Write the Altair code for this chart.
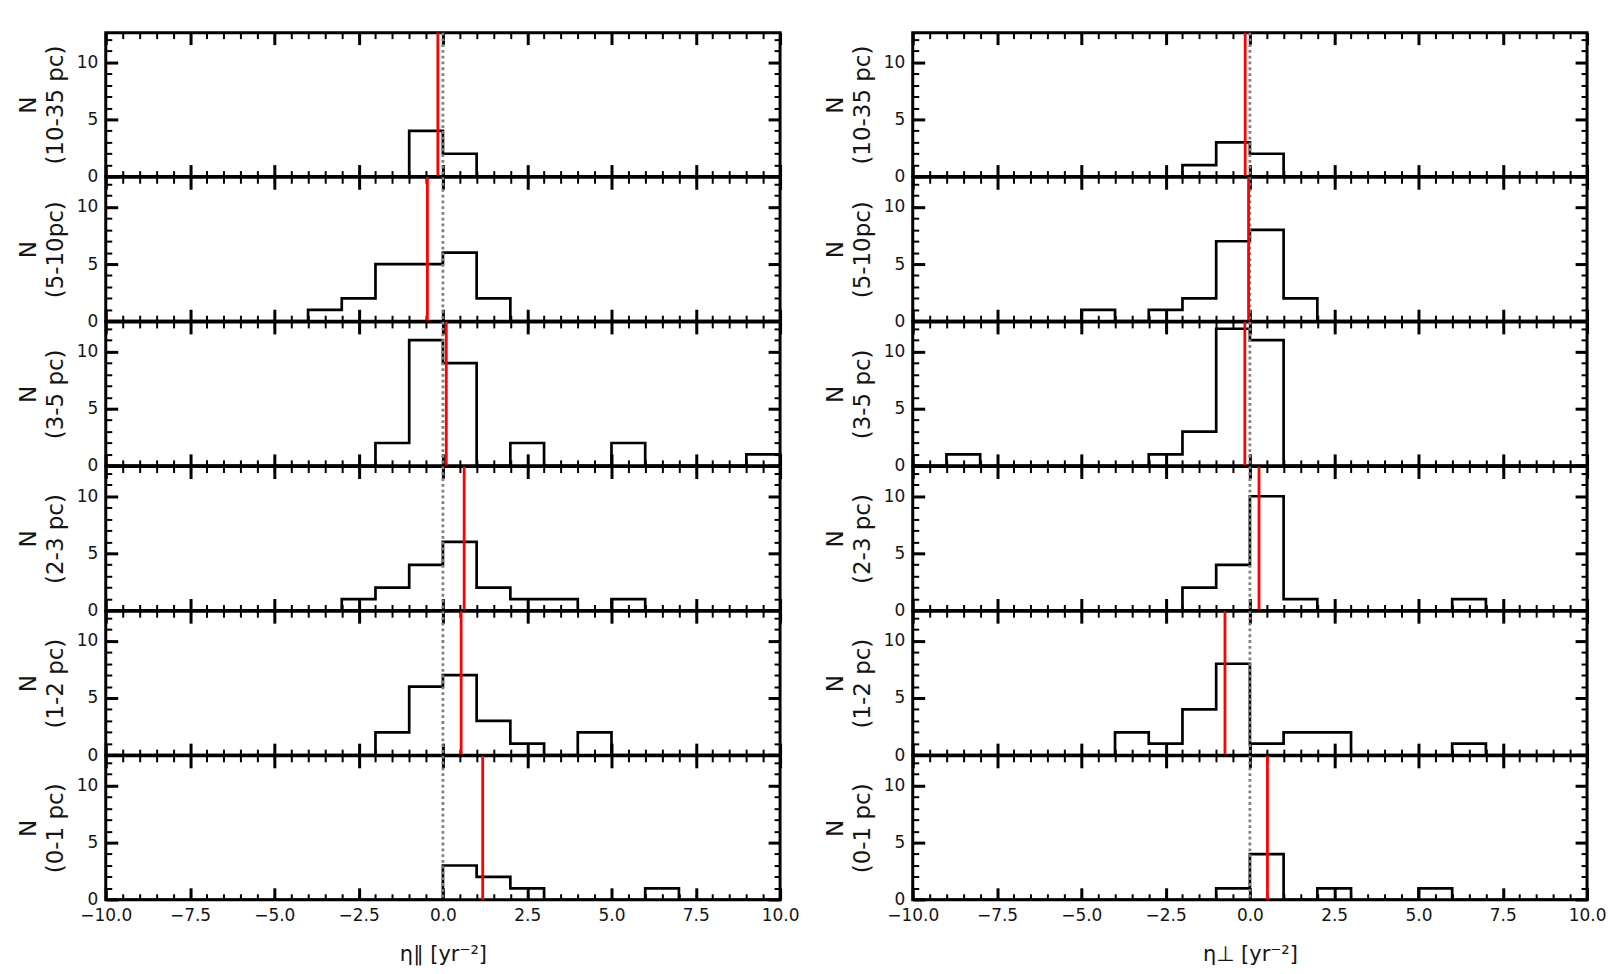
import altair as alt
import pandas as pd

# ---------------- data ----------------
BIN_EDGES = [-10, -9, -8, -7, -6, -5, -4, -3, -2, -1, 0, 1, 2, 3, 4, 5, 6, 7, 8, 9, 10]

ROW_LABELS = ["(10-35 pc)", "(5-10pc)", "(3-5 pc)", "(2-3 pc)", "(1-2 pc)", "(0-1 pc)"]

# counts per unit bin [-10,-9) ... [9,10)  -- eta parallel
PAR_10_35 = [0, 0, 0, 0, 0, 0, 0, 0, 0, 4, 2, 0, 0, 0, 0, 0, 0, 0, 0, 0]
PAR_5_10 = [0, 0, 0, 0, 0, 0, 1, 2, 5, 5, 6, 2, 0, 0, 0, 0, 0, 0, 0, 0]
PAR_3_5 = [0, 0, 0, 0, 0, 0, 0, 0, 2, 11, 9, 0, 2, 0, 0, 2, 0, 0, 0, 1]
PAR_2_3 = [0, 0, 0, 0, 0, 0, 0, 1, 2, 4, 6, 2, 1, 1, 0, 1, 0, 0, 0, 0]
PAR_1_2 = [0, 0, 0, 0, 0, 0, 0, 0, 2, 6, 7, 3, 1, 0, 2, 0, 0, 0, 0, 0]
PAR_0_1 = [0, 0, 0, 0, 0, 0, 0, 0, 0, 0, 3, 2, 1, 0, 0, 0, 1, 0, 0, 0]

# eta perpendicular
PERP_10_35 = [0, 0, 0, 0, 0, 0, 0, 0, 1, 3, 2, 0, 0, 0, 0, 0, 0, 0, 0, 0]
PERP_5_10 = [0, 0, 0, 0, 0, 1, 0, 1, 2, 7, 8, 2, 0, 0, 0, 0, 0, 0, 0, 0]
PERP_3_5 = [0, 1, 0, 0, 0, 0, 0, 1, 3, 12, 11, 0, 0, 0, 0, 0, 0, 0, 0, 0]
PERP_2_3 = [0, 0, 0, 0, 0, 0, 0, 0, 2, 4, 10, 1, 0, 0, 0, 0, 1, 0, 0, 0]
PERP_1_2 = [0, 0, 0, 0, 0, 0, 2, 1, 4, 8, 1, 2, 2, 0, 0, 0, 1, 0, 0, 0]
PERP_0_1 = [0, 0, 0, 0, 0, 0, 0, 0, 0, 1, 4, 0, 1, 0, 0, 1, 0, 0, 0, 0]

PAR_MEDIANS = [-0.15, -0.46, 0.10, 0.63, 0.54, 1.18]
PERP_MEDIANS = [-0.14, -0.04, -0.15, 0.27, -0.74, 0.52]

ZERO_LINE = 0.0

X_MAJOR = [-10, -7.5, -5, -2.5, 0, 2.5, 5, 7.5, 10]
X_MINOR = [v / 2 for v in range(-20, 21)]
Y_MAJOR = [0, 5, 10]
Y_MINOR = list(range(0, 13))

X_TITLE_PAR = "η∥ [yr⁻²]"
X_TITLE_PERP = "η⊥ [yr⁻²]"

# ---------------- layout / style ----------------
W = 676
H = 144.3
YMAX = 12.6
MAJ = 12
MIN = 6
FONT = "DejaVu Sans"
TXT = "#151515"


def tick_axis(orient, values, size, width, **kw):
    return alt.Axis(orient=orient, values=values, tickSize=size, offset=-size,
                    tickWidth=width, tickColor="black", domain=False, grid=False,
                    **kw)


def panel(counts, median, row_label, x_title, bottom):
    df = pd.DataFrame({"x": BIN_EDGES, "n": counts + [0]})
    xs = alt.Scale(domain=[-10, 10], nice=False, zero=False)
    ys = alt.Scale(domain=[0, YMAX], nice=False, zero=False)
    base = alt.Chart(df)

    if bottom:
        x_main = tick_axis("bottom", X_MAJOR, MAJ, 3, labels=True, format=".1f",
                           labelPadding=8, labelFlush=False, labelOverlap=False,
                           labelFontSize=17, labelFont=FONT, labelColor=TXT,
                           title=x_title, titleFont=FONT, titleFontSize=21,
                           titleFontWeight="normal", titleColor=TXT, titlePadding=20)
    else:
        x_main = tick_axis("bottom", X_MAJOR, MAJ, 3, labels=False, title=None)
    y_main = tick_axis("left", Y_MAJOR, MAJ, 3, labels=True, format="d",
                       labelPadding=8, labelFlush=False, labelOverlap=False,
                       labelFontSize=17, labelFont=FONT, labelColor=TXT,
                       title=["N", row_label], titleFont=FONT, titleFontSize=23,
                       titleFontWeight="normal", titleColor=TXT, titlePadding=9,
                       titleLineHeight=27)

    def ghost(xax, yax):
        return base.mark_line(interpolate="step-after", opacity=0).encode(
            x=alt.X("x:Q", scale=xs, axis=xax),
            y=alt.Y("n:Q", scale=ys, axis=yax),
        )

    g1 = ghost(tick_axis("bottom", X_MINOR, MIN, 2, labels=False, title=None),
               tick_axis("left", Y_MINOR, MIN, 2, labels=False, title=None))
    g2 = ghost(tick_axis("top", X_MAJOR, MAJ, 3, labels=False, title=None),
               tick_axis("right", Y_MAJOR, MAJ, 3, labels=False, title=None))
    g3 = ghost(tick_axis("top", X_MINOR, MIN, 2, labels=False, title=None),
               tick_axis("right", Y_MINOR, MIN, 2, labels=False, title=None))

    hist = base.mark_line(interpolate="step-after", color="black",
                          strokeWidth=2.7).encode(
        x=alt.X("x:Q", scale=xs, axis=x_main),
        y=alt.Y("n:Q", scale=ys, axis=y_main),
    )
    zero = alt.Chart(pd.DataFrame({"z": [ZERO_LINE]})).mark_rule(
        color="#808080", strokeWidth=2.8, strokeDash=[2.8, 3.0]
    ).encode(x=alt.X("z:Q", scale=xs, axis=None))
    red = alt.Chart(pd.DataFrame({"m": [median]})).mark_rule(
        color="#ff0000", strokeWidth=2.8
    ).encode(x=alt.X("m:Q", scale=xs, axis=None))

    return alt.layer(g1, g2, g3, hist, zero, red).resolve_axis(
        x="independent", y="independent"
    ).properties(width=W, height=H)


par_counts = [PAR_10_35, PAR_5_10, PAR_3_5, PAR_2_3, PAR_1_2, PAR_0_1]
perp_counts = [PERP_10_35, PERP_5_10, PERP_3_5, PERP_2_3, PERP_1_2, PERP_0_1]

panels = []
for i in range(6):
    panels.append(panel(par_counts[i], PAR_MEDIANS[i], ROW_LABELS[i], X_TITLE_PAR, i == 5))
    panels.append(panel(perp_counts[i], PERP_MEDIANS[i], ROW_LABELS[i], X_TITLE_PERP, i == 5))

chart = alt.concat(*panels, columns=2, spacing={"row": 0, "column": 133},
                   bounds="flush").properties(
    padding={"left": 7, "top": 20.5, "right": 0, "bottom": 0},
    background="white",
).configure_view(stroke="black", strokeWidth=3)

chart.save("out.html", embed_options={"renderer": "svg", "actions": False})
